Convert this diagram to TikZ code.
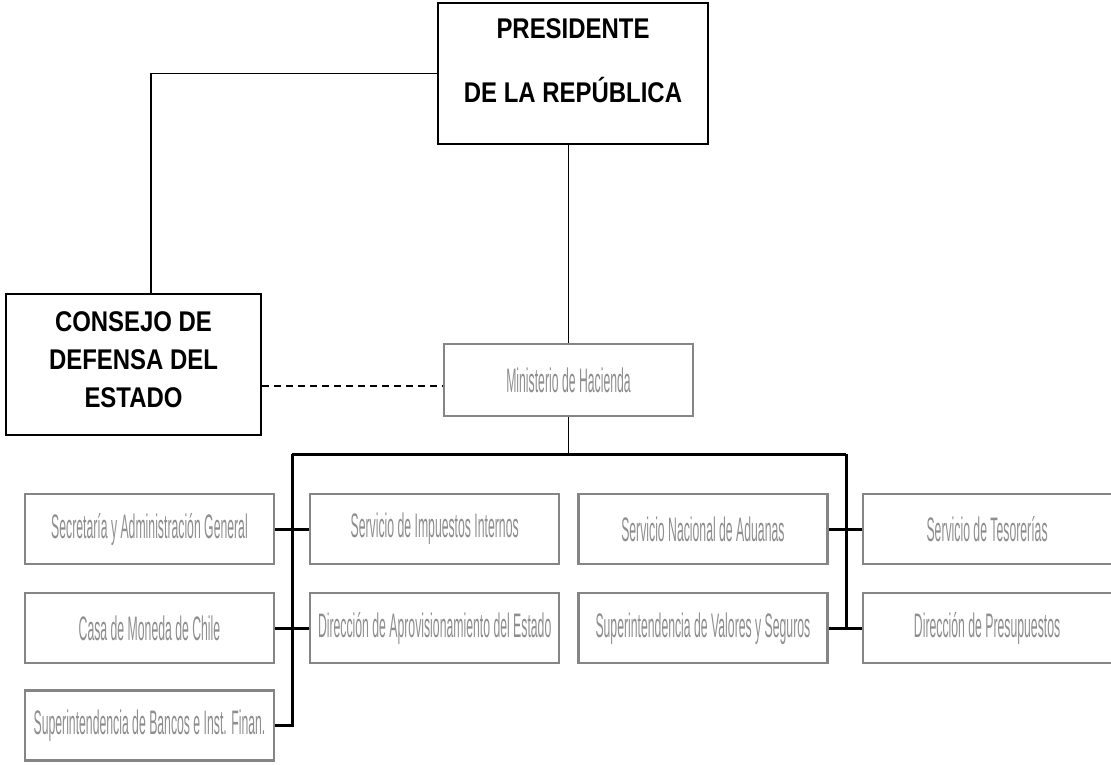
\documentclass[tikz,border=0pt]{standalone}
\usepackage{fontspec}
\setmainfont{Liberation Sans}
\newfontfamily\headfont[FakeStretch=0.84]{Liberation Sans Bold}
\newfontfamily\unitfont[FakeStretch=0.36]{Liberation Sans}
\usetikzlibrary{positioning}
\definecolor{unitgray}{HTML}{858585}
\definecolor{labelgray}{HTML}{8E8E8E}
\tikzset{
  head/.style={draw, line width=2pt, inner sep=0pt, align=center,
    font=\headfont\fontsize{28.5}{38}\selectfont},
  unit/.style={draw=unitgray, line width=2.2pt, text=labelgray, inner sep=0pt,
    minimum width=249pt, minimum height=70pt,
    font=\unitfont\fontsize{34}{38}\selectfont},
  link/.style={line width=1.7pt},
  trunk/.style={line width=3pt},
}

\begin{document}
\begin{tikzpicture}[x=1pt,y=-1pt]
  \useasboundingbox (0,0) rectangle (1111,764);

  \node[head, minimum width=270pt, minimum height=141pt] (pres) at (573,73.5)
    {PRESIDENTE\\[26pt]DE LA REPÚBLICA\rule[-26pt]{0pt}{26pt}};
  \node[head, minimum width=255pt, minimum height=141pt] (cons) at (133.5,364.5)
    {CONSEJO DE\\DEFENSA DEL\\ESTADO\rule[-9pt]{0pt}{9pt}};
  \node[unit, minimum height=72pt] (min) at (568.5,380) {Ministerio de Hacienda};

  % servicios
  \node[unit] (sec) at (149.5,529) {Secretaría y Administración General};
  \node[unit, right=34pt of sec] (sii) {Servicio de Impuestos Internos};
  \node[unit, right=17pt of sii] (adu) {Servicio Nacional de Aduanas};
  \node[unit, right=33pt of adu] (tes) {Servicio de Tesorerías};
  \node[unit, below=27pt of sec] (casa) {Casa de Moneda de Chile};
  \node[unit, below=27pt of sii] (dae) {Dirección de Aprovisionamiento del Estado};
  \node[unit, below=27pt of adu] (svs) {Superintendencia de Valores y Seguros};
  \node[unit, below=27pt of tes] (dipres) {Dirección de Presupuestos};
  \node[unit, below=25pt of casa] (sbif) {Superintendencia de Bancos e Inst. Finan.};

  \coordinate (elbow) at (151,73.5);
  \coordinate (busL) at (292,454);
  \coordinate (busR) at (846,454);

  \draw[link] (pres.west) -- (elbow) -- (elbow |- cons.north);
  \draw[link] (pres.south -| min.north) -- (min.north);
  \draw[link, dash pattern=on 7pt off 5pt] (cons.east |- 0,386) -- (min.west |- 0,386);
  \draw[link] (min.south) -- (min.south |- busL);

  \draw[trunk] (busL) -- (busR);
  \draw[trunk] (busL) |- (sbif.east);
  \draw[trunk] (busR) |- (svs.east);
  \draw[trunk] (sec.east) -- (sii.west);
  \draw[trunk] (casa.east) -- (dae.west);
  \draw[trunk] (adu.east) -- (tes.west);
  \draw[trunk] (svs.east) -- (dipres.west);
\end{tikzpicture}
\end{document}
